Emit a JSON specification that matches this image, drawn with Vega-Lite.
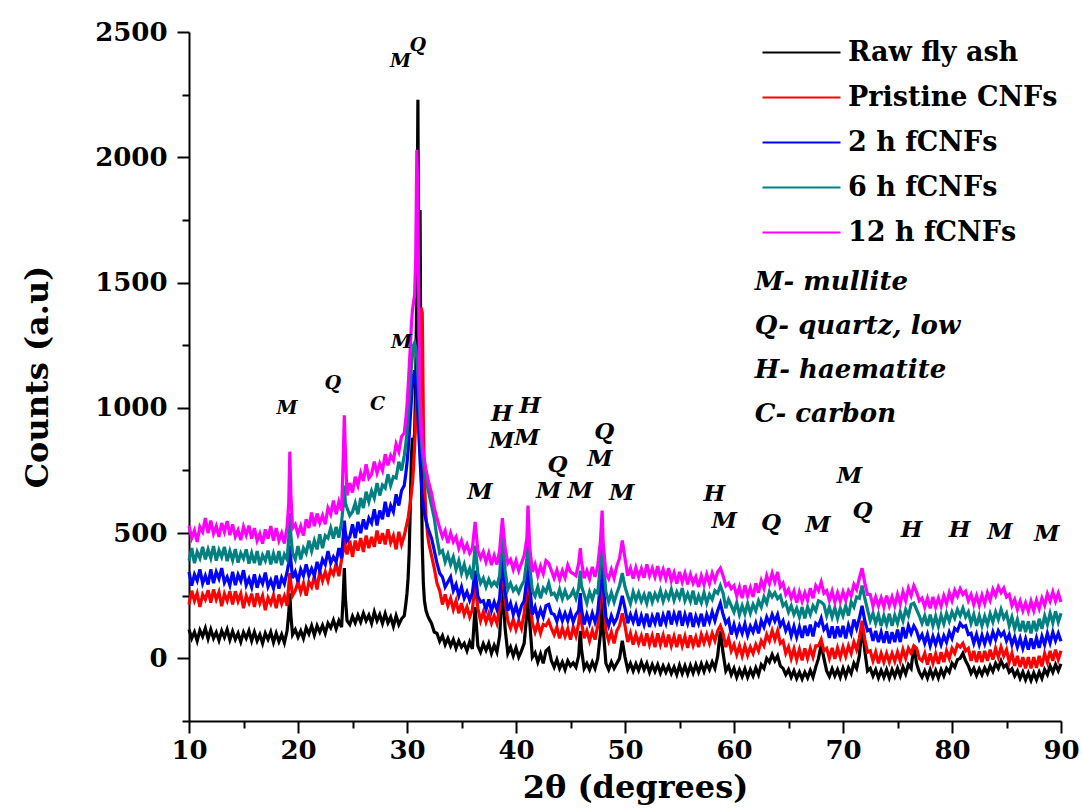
{
"$schema": "https://vega.github.io/schema/vega-lite/v6.json",
"width": 872, "height": 689, "autosize": "none",
"padding": {"left": 189, "top": 32, "right": 21, "bottom": 89},
"background": "white",
"config": {"view": {"stroke": null}},
"layer": [
{
"data": {"values": [
{"x":10,"a":115,"b":215,"c":345,"d":390,"e":530},
{"x":10.25,"a":80,"b":270,"c":290,"d":440,"e":480},
{"x":10.5,"a":105,"b":230,"c":335,"d":380,"e":510},
{"x":10.75,"a":70,"b":260,"c":310,"d":425,"e":465},
{"x":11,"a":112,"b":205,"c":355,"d":400,"e":525},
{"x":11.25,"a":88,"b":255,"c":300,"d":445,"e":505},
{"x":11.5,"a":120,"b":235,"c":330,"d":395,"e":560},
{"x":11.75,"a":78,"b":272,"c":295,"d":435,"e":500},
{"x":12,"a":115,"b":222,"c":355,"d":400,"e":550},
{"x":12.25,"a":80,"b":275,"c":300,"d":448,"e":498},
{"x":12.5,"a":104,"b":235,"c":345,"d":390,"e":528},
{"x":12.75,"a":72,"b":265,"c":318,"d":432,"e":485},
{"x":13,"a":110,"b":208,"c":360,"d":405,"e":540},
{"x":13.25,"a":84,"b":258,"c":302,"d":445,"e":505},
{"x":13.5,"a":115,"b":230,"c":325,"d":388,"e":548},
{"x":13.75,"a":74,"b":268,"c":292,"d":428,"e":492},
{"x":14,"a":108,"b":215,"c":345,"d":392,"e":535},
{"x":14.25,"a":76,"b":268,"c":292,"d":436,"e":486},
{"x":14.5,"a":100,"b":228,"c":334,"d":382,"e":512},
{"x":14.75,"a":66,"b":258,"c":308,"d":420,"e":472},
{"x":15,"a":104,"b":200,"c":352,"d":398,"e":525},
{"x":15.25,"a":80,"b":250,"c":292,"d":435,"e":492},
{"x":15.5,"a":110,"b":222,"c":318,"d":378,"e":530},
{"x":15.75,"a":70,"b":258,"c":284,"d":420,"e":478},
{"x":16,"a":105,"b":205,"c":335,"d":380,"e":520},
{"x":16.25,"a":70,"b":260,"c":282,"d":428,"e":470},
{"x":16.5,"a":95,"b":220,"c":322,"d":372,"e":498},
{"x":16.75,"a":60,"b":250,"c":298,"d":412,"e":458},
{"x":17,"a":100,"b":192,"c":342,"d":390,"e":515},
{"x":17.25,"a":76,"b":242,"c":286,"d":430,"e":478},
{"x":17.5,"a":105,"b":218,"c":312,"d":375,"e":528},
{"x":17.75,"a":64,"b":252,"c":280,"d":418,"e":470},
{"x":18,"a":100,"b":200,"c":330,"d":380,"e":520},
{"x":18.25,"a":67,"b":255,"c":278,"d":428,"e":470},
{"x":18.5,"a":95,"b":218,"c":322,"d":372,"e":500},
{"x":18.75,"a":62,"b":248,"c":298,"d":415,"e":458},
{"x":19,"a":110,"b":210,"c":345,"d":395,"e":525},
{"x":19.15,"a":180,"b":290,"c":380,"d":480,"e":620},
{"x":19.25,"a":260,"b":340,"c":450,"d":580,"e":825},
{"x":19.35,"a":170,"b":300,"c":390,"d":490,"e":650},
{"x":19.5,"a":95,"b":250,"c":320,"d":420,"e":520},
{"x":19.75,"a":115,"b":270,"c":345,"d":395,"e":535},
{"x":20,"a":85,"b":305,"c":305,"d":448,"e":495},
{"x":20.25,"a":110,"b":265,"c":355,"d":395,"e":528},
{"x":20.5,"a":80,"b":300,"c":330,"d":440,"e":490},
{"x":20.75,"a":122,"b":250,"c":375,"d":420,"e":555},
{"x":21,"a":98,"b":305,"c":330,"d":470,"e":520},
{"x":21.25,"a":130,"b":285,"c":358,"d":428,"e":582},
{"x":21.5,"a":93,"b":328,"c":330,"d":470,"e":528},
{"x":21.75,"a":130,"b":275,"c":385,"d":435,"e":578},
{"x":22,"a":105,"b":350,"c":350,"d":495,"e":540},
{"x":22.25,"a":132,"b":310,"c":395,"d":440,"e":570},
{"x":22.5,"a":100,"b":345,"c":375,"d":490,"e":535},
{"x":22.75,"a":140,"b":310,"c":428,"d":480,"e":600},
{"x":23,"a":122,"b":355,"c":380,"d":520,"e":575},
{"x":23.25,"a":152,"b":335,"c":405,"d":478,"e":630},
{"x":23.5,"a":118,"b":378,"c":385,"d":525,"e":575},
{"x":23.75,"a":150,"b":328,"c":440,"d":482,"e":625},
{"x":24,"a":125,"b":395,"c":400,"d":545,"e":590},
{"x":24.15,"a":250,"b":430,"c":490,"d":610,"e":800},
{"x":24.25,"a":360,"b":500,"c":550,"d":690,"e":970},
{"x":24.35,"a":240,"b":440,"c":500,"d":620,"e":820},
{"x":24.5,"a":150,"b":415,"c":470,"d":600,"e":650},
{"x":24.75,"a":135,"b":470,"c":485,"d":570,"e":700},
{"x":25,"a":168,"b":405,"c":535,"d":585,"e":662},
{"x":25.25,"a":142,"b":470,"c":480,"d":620,"e":725},
{"x":25.5,"a":172,"b":430,"c":545,"d":575,"e":690},
{"x":25.75,"a":145,"b":480,"c":500,"d":640,"e":740},
{"x":26,"a":180,"b":425,"c":555,"d":600,"e":708},
{"x":26.25,"a":150,"b":490,"c":515,"d":665,"e":775},
{"x":26.5,"a":172,"b":440,"c":560,"d":625,"e":720},
{"x":26.75,"a":140,"b":485,"c":540,"d":668,"e":735},
{"x":27,"a":185,"b":445,"c":595,"d":640,"e":785},
{"x":27.25,"a":150,"b":510,"c":530,"d":700,"e":740},
{"x":27.5,"a":175,"b":458,"c":590,"d":650,"e":778},
{"x":27.75,"a":140,"b":500,"c":555,"d":692,"e":750},
{"x":28,"a":178,"b":455,"c":625,"d":680,"e":815},
{"x":28.25,"a":142,"b":515,"c":565,"d":735,"e":770},
{"x":28.5,"a":165,"b":462,"c":610,"d":690,"e":810},
{"x":28.75,"a":128,"b":490,"c":585,"d":725,"e":790},
{"x":29,"a":170,"b":435,"c":655,"d":720,"e":855},
{"x":29.25,"a":135,"b":505,"c":610,"d":785,"e":825},
{"x":29.5,"a":158,"b":455,"c":670,"d":750,"e":885},
{"x":29.75,"a":170,"b":490,"c":690,"d":810,"e":900},
{"x":29.9,"a":220,"b":520,"c":740,"d":860,"e":960},
{"x":30,"a":260,"b":540,"c":780,"d":900,"e":1010},
{"x":30.1,"a":320,"b":560,"c":830,"d":960,"e":1080},
{"x":30.2,"a":420,"b":590,"c":890,"d":1020,"e":1160},
{"x":30.3,"a":600,"b":620,"c":960,"d":1090,"e":1240},
{"x":30.4,"a":800,"b":660,"c":1030,"d":1160,"e":1330},
{"x":30.5,"a":880,"b":700,"c":1090,"d":1210,"e":1390},
{"x":30.6,"a":860,"b":760,"c":1130,"d":1250,"e":1420},
{"x":30.7,"a":900,"b":850,"c":1150,"d":1260,"e":1450},
{"x":30.8,"a":1100,"b":950,"c":1120,"d":1240,"e":1600},
{"x":30.9,"a":1500,"b":1050,"c":1060,"d":1200,"e":2030},
{"x":31,"a":2230,"b":1100,"c":980,"d":1130,"e":1850},
{"x":31.1,"a":1200,"b":1150,"c":880,"d":1040,"e":1300},
{"x":31.2,"a":1790,"b":1300,"c":790,"d":950,"e":1050},
{"x":31.3,"a":800,"b":1400,"c":710,"d":880,"e":930},
{"x":31.4,"a":450,"b":1380,"c":650,"d":820,"e":860},
{"x":31.5,"a":300,"b":950,"c":610,"d":780,"e":820},
{"x":31.6,"a":230,"b":700,"c":580,"d":750,"e":790},
{"x":31.75,"a":190,"b":560,"c":550,"d":715,"e":750},
{"x":31.9,"a":170,"b":490,"c":525,"d":680,"e":720},
{"x":32,"a":160,"b":460,"c":510,"d":660,"e":700},
{"x":32.25,"a":140,"b":410,"c":480,"d":610,"e":660},
{"x":32.5,"a":105,"b":360,"c":430,"d":560,"e":600},
{"x":32.75,"a":100,"b":300,"c":380,"d":480,"e":560},
{"x":33,"a":68,"b":270,"c":340,"d":420,"e":520},
{"x":33.25,"a":90,"b":215,"c":325,"d":430,"e":485},
{"x":33.5,"a":55,"b":255,"c":285,"d":385,"e":510},
{"x":33.75,"a":80,"b":210,"c":305,"d":415,"e":460},
{"x":34,"a":50,"b":240,"c":325,"d":375,"e":500},
{"x":34.25,"a":75,"b":195,"c":270,"d":405,"e":465},
{"x":34.5,"a":40,"b":230,"c":295,"d":355,"e":485},
{"x":34.75,"a":70,"b":180,"c":250,"d":390,"e":440},
{"x":35,"a":45,"b":220,"c":285,"d":340,"e":470},
{"x":35.25,"a":60,"b":175,"c":240,"d":375,"e":430},
{"x":35.5,"a":30,"b":205,"c":265,"d":330,"e":455},
{"x":35.75,"a":65,"b":165,"c":232,"d":358,"e":420},
{"x":36,"a":38,"b":195,"c":262,"d":315,"e":440},
{"x":36.25,"a":205,"b":300,"c":350,"d":450,"e":545},
{"x":36.5,"a":50,"b":200,"c":248,"d":340,"e":430},
{"x":36.75,"a":25,"b":150,"c":225,"d":300,"e":400},
{"x":37,"a":58,"b":185,"c":230,"d":320,"e":425},
{"x":37.25,"a":32,"b":145,"c":195,"d":285,"e":385},
{"x":37.5,"a":60,"b":178,"c":235,"d":315,"e":420},
{"x":37.75,"a":20,"b":140,"c":190,"d":290,"e":372},
{"x":38,"a":52,"b":170,"c":225,"d":305,"e":410},
{"x":38.25,"a":25,"b":140,"c":195,"d":290,"e":375},
{"x":38.5,"a":90,"b":200,"c":240,"d":330,"e":430},
{"x":38.75,"a":285,"b":380,"c":410,"d":500,"e":560},
{"x":39,"a":120,"b":230,"c":270,"d":350,"e":440},
{"x":39.25,"a":20,"b":150,"c":190,"d":275,"e":380},
{"x":39.5,"a":45,"b":120,"c":220,"d":300,"e":395},
{"x":39.75,"a":10,"b":155,"c":175,"d":270,"e":355},
{"x":40,"a":42,"b":115,"c":210,"d":285,"e":390},
{"x":40.25,"a":5,"b":150,"c":170,"d":262,"e":350},
{"x":40.5,"a":30,"b":120,"c":210,"d":290,"e":380},
{"x":40.75,"a":60,"b":180,"c":230,"d":310,"e":410},
{"x":41,"a":180,"b":290,"c":320,"d":400,"e":480},
{"x":41.1,"a":325,"b":400,"c":450,"d":520,"e":610},
{"x":41.25,"a":150,"b":260,"c":300,"d":370,"e":450},
{"x":41.5,"a":5,"b":140,"c":175,"d":270,"e":345},
{"x":41.75,"a":22,"b":105,"c":205,"d":248,"e":375},
{"x":42,"a":-15,"b":140,"c":160,"d":285,"e":330},
{"x":42.25,"a":18,"b":100,"c":195,"d":240,"e":368},
{"x":42.5,"a":-20,"b":135,"c":165,"d":280,"e":338},
{"x":42.75,"a":30,"b":130,"c":210,"d":265,"e":390},
{"x":43,"a":40,"b":150,"c":215,"d":300,"e":380},
{"x":43.25,"a":-10,"b":120,"c":180,"d":255,"e":350},
{"x":43.5,"a":-35,"b":95,"c":175,"d":260,"e":320},
{"x":43.75,"a":-5,"b":125,"c":148,"d":238,"e":352},
{"x":44,"a":-40,"b":80,"c":185,"d":275,"e":315},
{"x":44.25,"a":-15,"b":120,"c":150,"d":238,"e":350},
{"x":44.5,"a":-45,"b":88,"c":180,"d":270,"e":322},
{"x":44.75,"a":-10,"b":118,"c":150,"d":240,"e":372},
{"x":45,"a":-30,"b":75,"c":185,"d":250,"e":345},
{"x":45.25,"a":-18,"b":125,"c":145,"d":272,"e":338},
{"x":45.5,"a":-35,"b":90,"c":175,"d":240,"e":330},
{"x":45.75,"a":10,"b":140,"c":190,"d":280,"e":380},
{"x":45.9,"a":110,"b":210,"c":260,"d":350,"e":440},
{"x":46,"a":40,"b":150,"c":200,"d":290,"e":390},
{"x":46.25,"a":-40,"b":80,"c":135,"d":255,"e":320},
{"x":46.5,"a":-20,"b":110,"c":175,"d":220,"e":350},
{"x":46.75,"a":-45,"b":70,"c":140,"d":265,"e":318},
{"x":47,"a":-15,"b":110,"c":180,"d":235,"e":365},
{"x":47.25,"a":-40,"b":75,"c":145,"d":270,"e":325},
{"x":47.5,"a":0,"b":130,"c":185,"d":260,"e":370},
{"x":47.75,"a":100,"b":250,"c":300,"d":380,"e":470},
{"x":47.9,"a":240,"b":380,"c":410,"d":490,"e":590},
{"x":48,"a":120,"b":260,"c":300,"d":390,"e":460},
{"x":48.25,"a":-20,"b":110,"c":165,"d":265,"e":340},
{"x":48.5,"a":-45,"b":70,"c":130,"d":225,"e":318},
{"x":48.75,"a":-15,"b":105,"c":170,"d":262,"e":355},
{"x":49,"a":-40,"b":60,"c":140,"d":225,"e":320},
{"x":49.25,"a":-20,"b":110,"c":160,"d":260,"e":368},
{"x":49.5,"a":0,"b":130,"c":200,"d":290,"e":400},
{"x":49.75,"a":70,"b":180,"c":250,"d":340,"e":470},
{"x":50,"a":5,"b":130,"c":200,"d":285,"e":400},
{"x":50.25,"a":-45,"b":65,"c":140,"d":250,"e":330},
{"x":50.5,"a":-20,"b":100,"c":175,"d":218,"e":360},
{"x":50.75,"a":-50,"b":55,"c":145,"d":265,"e":318},
{"x":51,"a":-22,"b":95,"c":180,"d":232,"e":362},
{"x":51.25,"a":-48,"b":60,"c":130,"d":262,"e":325},
{"x":51.5,"a":-15,"b":90,"c":170,"d":228,"e":358},
{"x":51.75,"a":-45,"b":50,"c":135,"d":255,"e":322},
{"x":52,"a":-20,"b":100,"c":178,"d":220,"e":375},
{"x":52.25,"a":-55,"b":55,"c":125,"d":265,"e":330},
{"x":52.5,"a":-25,"b":90,"c":168,"d":225,"e":360},
{"x":52.75,"a":-52,"b":45,"c":140,"d":258,"e":325},
{"x":53,"a":-25,"b":100,"c":182,"d":235,"e":368},
{"x":53.25,"a":-58,"b":55,"c":128,"d":270,"e":322},
{"x":53.5,"a":-30,"b":92,"c":172,"d":228,"e":355},
{"x":53.75,"a":-55,"b":45,"c":140,"d":262,"e":318},
{"x":54,"a":-30,"b":95,"c":190,"d":238,"e":360},
{"x":54.25,"a":-60,"b":50,"c":135,"d":275,"e":310},
{"x":54.5,"a":-35,"b":88,"c":178,"d":232,"e":342},
{"x":54.75,"a":-65,"b":45,"c":145,"d":265,"e":298},
{"x":55,"a":-28,"b":95,"c":190,"d":240,"e":345},
{"x":55.25,"a":-60,"b":50,"c":130,"d":280,"e":305},
{"x":55.5,"a":-30,"b":88,"c":175,"d":230,"e":340},
{"x":55.75,"a":-62,"b":42,"c":140,"d":258,"e":295},
{"x":56,"a":-28,"b":92,"c":182,"d":228,"e":335},
{"x":56.25,"a":-58,"b":52,"c":125,"d":270,"e":300},
{"x":56.5,"a":-25,"b":85,"c":168,"d":215,"e":325},
{"x":56.75,"a":-55,"b":45,"c":138,"d":250,"e":285},
{"x":57,"a":-22,"b":95,"c":178,"d":222,"e":330},
{"x":57.25,"a":-52,"b":62,"c":128,"d":262,"e":295},
{"x":57.5,"a":-20,"b":95,"c":175,"d":220,"e":335},
{"x":57.75,"a":-45,"b":60,"c":145,"d":255,"e":298},
{"x":58,"a":-15,"b":100,"c":185,"d":235,"e":340},
{"x":58.25,"a":-40,"b":70,"c":150,"d":270,"e":310},
{"x":58.5,"a":10,"b":110,"c":190,"d":260,"e":345},
{"x":58.75,"a":110,"b":130,"c":220,"d":290,"e":360},
{"x":59,"a":20,"b":100,"c":175,"d":260,"e":330},
{"x":59.25,"a":-50,"b":45,"c":140,"d":200,"e":290},
{"x":59.5,"a":-30,"b":80,"c":155,"d":235,"e":300},
{"x":59.75,"a":-65,"b":30,"c":95,"d":210,"e":278},
{"x":60,"a":-40,"b":55,"c":135,"d":185,"e":290},
{"x":60.25,"a":-75,"b":15,"c":95,"d":222,"e":250},
{"x":60.5,"a":-45,"b":50,"c":130,"d":175,"e":285},
{"x":60.75,"a":-72,"b":10,"c":100,"d":210,"e":240},
{"x":61,"a":-42,"b":50,"c":138,"d":178,"e":292},
{"x":61.25,"a":-75,"b":12,"c":92,"d":218,"e":248},
{"x":61.5,"a":-45,"b":45,"c":128,"d":180,"e":282},
{"x":61.75,"a":-70,"b":20,"c":105,"d":215,"e":245},
{"x":62,"a":-38,"b":55,"c":140,"d":190,"e":300},
{"x":62.25,"a":-65,"b":30,"c":100,"d":230,"e":262},
{"x":62.5,"a":-25,"b":70,"c":150,"d":205,"e":310},
{"x":62.75,"a":-40,"b":50,"c":125,"d":245,"e":280},
{"x":63,"a":0,"b":95,"c":165,"d":220,"e":330},
{"x":63.25,"a":-15,"b":70,"c":140,"d":265,"e":298},
{"x":63.5,"a":15,"b":110,"c":175,"d":245,"e":340},
{"x":63.75,"a":-10,"b":75,"c":148,"d":262,"e":305},
{"x":64,"a":10,"b":110,"c":175,"d":238,"e":345},
{"x":64.25,"a":-30,"b":60,"c":130,"d":250,"e":285},
{"x":64.5,"a":-40,"b":70,"c":150,"d":210,"e":300},
{"x":64.75,"a":-65,"b":20,"c":110,"d":222,"e":255},
{"x":65,"a":-45,"b":45,"c":135,"d":185,"e":275},
{"x":65.25,"a":-75,"b":0,"c":90,"d":210,"e":240},
{"x":65.5,"a":-50,"b":38,"c":128,"d":175,"e":268},
{"x":65.75,"a":-80,"b":-5,"c":85,"d":200,"e":222},
{"x":66,"a":-55,"b":35,"c":125,"d":165,"e":265},
{"x":66.25,"a":-82,"b":-8,"c":82,"d":205,"e":228},
{"x":66.5,"a":-55,"b":40,"c":130,"d":160,"e":262},
{"x":66.75,"a":-78,"b":0,"c":90,"d":205,"e":232},
{"x":67,"a":-48,"b":40,"c":135,"d":175,"e":280},
{"x":67.25,"a":-75,"b":5,"c":88,"d":210,"e":240},
{"x":67.5,"a":-35,"b":50,"c":140,"d":190,"e":290},
{"x":67.75,"a":0,"b":50,"c":130,"d":230,"e":270},
{"x":68,"a":55,"b":75,"c":160,"d":225,"e":305},
{"x":68.25,"a":0,"b":30,"c":115,"d":215,"e":260},
{"x":68.5,"a":-50,"b":40,"c":130,"d":170,"e":270},
{"x":68.75,"a":-72,"b":0,"c":82,"d":205,"e":232},
{"x":69,"a":-42,"b":42,"c":128,"d":165,"e":268},
{"x":69.25,"a":-70,"b":-2,"c":80,"d":202,"e":225},
{"x":69.5,"a":-45,"b":42,"c":128,"d":160,"e":262},
{"x":69.75,"a":-75,"b":5,"c":85,"d":200,"e":228},
{"x":70,"a":-40,"b":45,"c":130,"d":170,"e":265},
{"x":70.25,"a":-72,"b":8,"c":80,"d":210,"e":232},
{"x":70.5,"a":-38,"b":50,"c":132,"d":170,"e":270},
{"x":70.75,"a":-60,"b":20,"c":100,"d":225,"e":250},
{"x":71,"a":-20,"b":65,"c":155,"d":205,"e":295},
{"x":71.25,"a":-40,"b":35,"c":120,"d":245,"e":275},
{"x":71.5,"a":10,"b":80,"c":160,"d":240,"e":320},
{"x":71.75,"a":130,"b":150,"c":210,"d":290,"e":360},
{"x":72,"a":30,"b":75,"c":150,"d":240,"e":300},
{"x":72.25,"a":-50,"b":25,"c":110,"d":195,"e":255},
{"x":72.5,"a":-40,"b":30,"c":115,"d":150,"e":255},
{"x":72.75,"a":-70,"b":-10,"c":70,"d":180,"e":208},
{"x":73,"a":-45,"b":25,"c":110,"d":140,"e":245},
{"x":73.25,"a":-78,"b":-20,"c":65,"d":175,"e":210},
{"x":73.5,"a":-48,"b":20,"c":105,"d":130,"e":242},
{"x":73.75,"a":-75,"b":-15,"c":62,"d":170,"e":205},
{"x":74,"a":-45,"b":20,"c":108,"d":135,"e":250},
{"x":74.25,"a":-78,"b":-15,"c":60,"d":178,"e":210},
{"x":74.5,"a":-45,"b":20,"c":105,"d":130,"e":245},
{"x":74.75,"a":-72,"b":-12,"c":65,"d":172,"e":210},
{"x":75,"a":-40,"b":25,"c":115,"d":140,"e":255},
{"x":75.25,"a":-70,"b":-10,"c":65,"d":185,"e":218},
{"x":75.5,"a":-35,"b":35,"c":125,"d":150,"e":265},
{"x":75.75,"a":-62,"b":0,"c":80,"d":195,"e":230},
{"x":76,"a":-25,"b":40,"c":130,"d":170,"e":280},
{"x":76.25,"a":-40,"b":20,"c":100,"d":215,"e":250},
{"x":76.5,"a":50,"b":50,"c":130,"d":220,"e":290},
{"x":76.75,"a":-20,"b":40,"c":110,"d":195,"e":265},
{"x":77,"a":-55,"b":0,"c":75,"d":170,"e":230},
{"x":77.25,"a":-75,"b":-10,"c":95,"d":140,"e":240},
{"x":77.5,"a":-50,"b":20,"c":60,"d":170,"e":205},
{"x":77.75,"a":-78,"b":-25,"c":95,"d":130,"e":240},
{"x":78,"a":-45,"b":20,"c":50,"d":175,"e":200},
{"x":78.25,"a":-75,"b":-20,"c":88,"d":130,"e":245},
{"x":78.5,"a":-48,"b":18,"c":55,"d":168,"e":205},
{"x":78.75,"a":-78,"b":-22,"c":90,"d":128,"e":240},
{"x":79,"a":-45,"b":25,"c":55,"d":172,"e":208},
{"x":79.25,"a":-70,"b":-15,"c":90,"d":138,"e":250},
{"x":79.5,"a":-40,"b":30,"c":65,"d":180,"e":218},
{"x":79.75,"a":-55,"b":0,"c":105,"d":148,"e":262},
{"x":80,"a":-20,"b":40,"c":80,"d":185,"e":230},
{"x":80.25,"a":-35,"b":20,"c":120,"d":160,"e":272},
{"x":80.5,"a":-5,"b":55,"c":110,"d":195,"e":248},
{"x":80.75,"a":0,"b":45,"c":140,"d":170,"e":278},
{"x":81,"a":20,"b":60,"c":125,"d":200,"e":255},
{"x":81.25,"a":-10,"b":30,"c":130,"d":165,"e":268},
{"x":81.5,"a":-30,"b":40,"c":95,"d":185,"e":230},
{"x":81.75,"a":-60,"b":-10,"c":100,"d":140,"e":255},
{"x":82,"a":-40,"b":30,"c":60,"d":175,"e":215},
{"x":82.25,"a":-68,"b":-15,"c":95,"d":130,"e":250},
{"x":82.5,"a":-42,"b":28,"c":55,"d":170,"e":212},
{"x":82.75,"a":-65,"b":-15,"c":92,"d":130,"e":252},
{"x":83,"a":-38,"b":30,"c":58,"d":168,"e":218},
{"x":83.25,"a":-60,"b":-10,"c":95,"d":135,"e":262},
{"x":83.5,"a":-30,"b":35,"c":65,"d":178,"e":232},
{"x":83.75,"a":-52,"b":-5,"c":105,"d":145,"e":275},
{"x":84,"a":-20,"b":40,"c":75,"d":185,"e":250},
{"x":84.25,"a":-40,"b":5,"c":110,"d":155,"e":285},
{"x":84.5,"a":-10,"b":45,"c":90,"d":195,"e":262},
{"x":84.75,"a":-35,"b":10,"c":105,"d":160,"e":280},
{"x":85,"a":-25,"b":35,"c":70,"d":180,"e":245},
{"x":85.25,"a":-55,"b":-15,"c":95,"d":130,"e":255},
{"x":85.5,"a":-42,"b":20,"c":55,"d":165,"e":210},
{"x":85.75,"a":-70,"b":-30,"c":85,"d":118,"e":235},
{"x":86,"a":-50,"b":10,"c":45,"d":155,"e":195},
{"x":86.25,"a":-80,"b":-35,"c":80,"d":108,"e":228},
{"x":86.5,"a":-55,"b":5,"c":40,"d":150,"e":190},
{"x":86.75,"a":-85,"b":-40,"c":78,"d":105,"e":222},
{"x":87,"a":-58,"b":5,"c":35,"d":148,"e":188},
{"x":87.25,"a":-88,"b":-40,"c":80,"d":100,"e":228},
{"x":87.5,"a":-58,"b":5,"c":38,"d":150,"e":190},
{"x":87.75,"a":-85,"b":-38,"c":82,"d":108,"e":232},
{"x":88,"a":-55,"b":10,"c":42,"d":158,"e":198},
{"x":88.25,"a":-80,"b":-32,"c":88,"d":118,"e":240},
{"x":88.5,"a":-45,"b":20,"c":55,"d":170,"e":212},
{"x":88.75,"a":-65,"b":-15,"c":100,"d":135,"e":258},
{"x":89,"a":-30,"b":30,"c":62,"d":180,"e":228},
{"x":89.25,"a":-55,"b":-10,"c":105,"d":142,"e":265},
{"x":89.5,"a":-25,"b":35,"c":70,"d":188,"e":228},
{"x":89.75,"a":-50,"b":-5,"c":100,"d":145,"e":260},
{"x":90,"a":-22,"b":30,"c":68,"d":180,"e":225}
]},
"transform": [{"fold": ["a","b","c","d","e"], "as": ["s","v"]}],
"mark": {"type": "line", "strokeWidth": 3.2, "strokeJoin": "miter"},
"encoding": {
  "x": {"field": "x", "type": "quantitative",
    "scale": {"domain": [10, 90], "nice": false, "zero": false},
    "axis": {"values": [10,15,20,25,30,35,40,45,50,55,60,65,70,75,80,85,90],
      "format": "d",
      "labelExpr": "datum.value % 10 === 0 ? datum.label : ''",
      "tickSize": {"condition": {"test": "datum.value % 10 === 0", "value": 12}, "value": 7},
      "title": "2θ (degrees)", "grid": false,
      "domainColor": "black", "domainWidth": 2, "tickColor": "black", "tickWidth": 2,
      "labelFont": "DejaVu Serif", "labelFontWeight": "bold", "labelFontSize": 26, "labelColor": "black",
      "labelPadding": 4, "labelFlush": false, "labelOverlap": false, "labelBound": false,
      "titleFont": "DejaVu Serif", "titleFontWeight": "bold", "titleFontSize": 32, "titleColor": "black",
      "titlePadding": 9, "titleX": 446}},
  "y": {"field": "v", "type": "quantitative",
    "scale": {"domain": [-250, 2500], "nice": false, "zero": false},
    "axis": {"values": [-250,0,250,500,750,1000,1250,1500,1750,2000,2250,2500],
      "format": "d",
      "labelExpr": "datum.value % 500 === 0 ? datum.label : ''",
      "tickSize": {"condition": {"test": "datum.value % 500 === 0", "value": 12}, "value": 7},
      "title": "Counts (a.u)", "grid": false,
      "domainColor": "black", "domainWidth": 2, "tickColor": "black", "tickWidth": 2,
      "labelFont": "DejaVu Serif", "labelFontWeight": "bold", "labelFontSize": 26, "labelColor": "black",
      "labelPadding": 10, "labelOverlap": false, "labelFlush": false, "labelBound": false,
      "titleFont": "DejaVu Serif", "titleFontWeight": "bold", "titleFontSize": 32, "titleColor": "black",
      "titlePadding": 40}},
  "color": {"field": "s", "type": "nominal",
    "scale": {"domain": ["a","b","c","d","e"], "range": ["#000000","#ff0000","#0000ff","#008080","#ff00ff"]},
    "legend": {"orient": "none", "legendX": 592, "legendY": 0, "title": null, "padding": 0,
      "symbolType": "M-2,0H2", "symbolSize": 1521, "symbolStrokeWidth": 2, "symbolFillColor": "transparent",
      "labelFont": "DejaVu Serif", "labelFontWeight": "bold", "labelFontSize": 27, "labelColor": "black",
      "labelOffset": 26, "rowPadding": 11, "labelLimit": 400,
      "labelExpr": "datum.label == 'a' ? 'Raw fly ash' : datum.label == 'b' ? 'Pristine CNFs' : datum.label == 'c' ? '2 h fCNFs' : datum.label == 'd' ? '6 h fCNFs' : '12 h fCNFs'"}}
}
},
{
"data": {"values": [
{"x":19.0,"y":1000,"t":"M"},{"x":23.2,"y":1100,"t":"Q"},{"x":27.3,"y":1014,"t":"C"},
{"x":29.5,"y":1264,"t":"M"},{"x":29.4,"y":2384,"t":"M"},{"x":31.0,"y":2450,"t":"Q"}
]},
"mark": {"type": "text", "font": "DejaVu Serif", "fontStyle": "italic", "fontWeight": "bold", "fontSize": 19, "color": "black", "baseline": "middle", "align": "center"},
"encoding": {"x": {"field": "x", "type": "quantitative"}, "y": {"field": "y", "type": "quantitative"}, "text": {"field": "t"}}
},
{
"data": {"values": [
{"x":36.7,"y":664,"t":"M"},{"x":38.7,"y":976,"t":"H"},{"x":38.7,"y":868,"t":"M"},
{"x":41.3,"y":1008,"t":"H"},{"x":41.0,"y":880,"t":"M"},{"x":43.8,"y":772,"t":"Q"},
{"x":43.0,"y":668,"t":"M"},{"x":45.9,"y":668,"t":"M"},{"x":48.1,"y":904,"t":"Q"},
{"x":47.7,"y":796,"t":"M"},{"x":49.7,"y":660,"t":"M"},{"x":58.2,"y":656,"t":"H"},
{"x":59.1,"y":548,"t":"M"},{"x":63.4,"y":540,"t":"Q"},{"x":67.7,"y":532,"t":"M"},
{"x":70.6,"y":728,"t":"M"},{"x":71.8,"y":588,"t":"Q"},{"x":76.3,"y":512,"t":"H"},
{"x":80.7,"y":512,"t":"H"},{"x":84.4,"y":504,"t":"M"},{"x":88.7,"y":496,"t":"M"}
]},
"mark": {"type": "text", "font": "DejaVu Serif", "fontStyle": "italic", "fontWeight": "bold", "fontSize": 23, "color": "black", "baseline": "middle", "align": "center"},
"encoding": {"x": {"field": "x", "type": "quantitative"}, "y": {"field": "y", "type": "quantitative"}, "text": {"field": "t"}}
},
{
"data": {"values": [
{"x":61.9,"y":1504,"t":"M- mullite"},{"x":61.9,"y":1328,"t":"Q- quartz, low"},
{"x":61.9,"y":1152,"t":"H- haematite"},{"x":61.9,"y":976,"t":"C- carbon"}
]},
"mark": {"type": "text", "font": "DejaVu Serif", "fontStyle": "italic", "fontWeight": "bold", "fontSize": 26, "color": "black", "baseline": "middle", "align": "left"},
"encoding": {"x": {"field": "x", "type": "quantitative"}, "y": {"field": "y", "type": "quantitative"}, "text": {"field": "t"}}
}
]
}
